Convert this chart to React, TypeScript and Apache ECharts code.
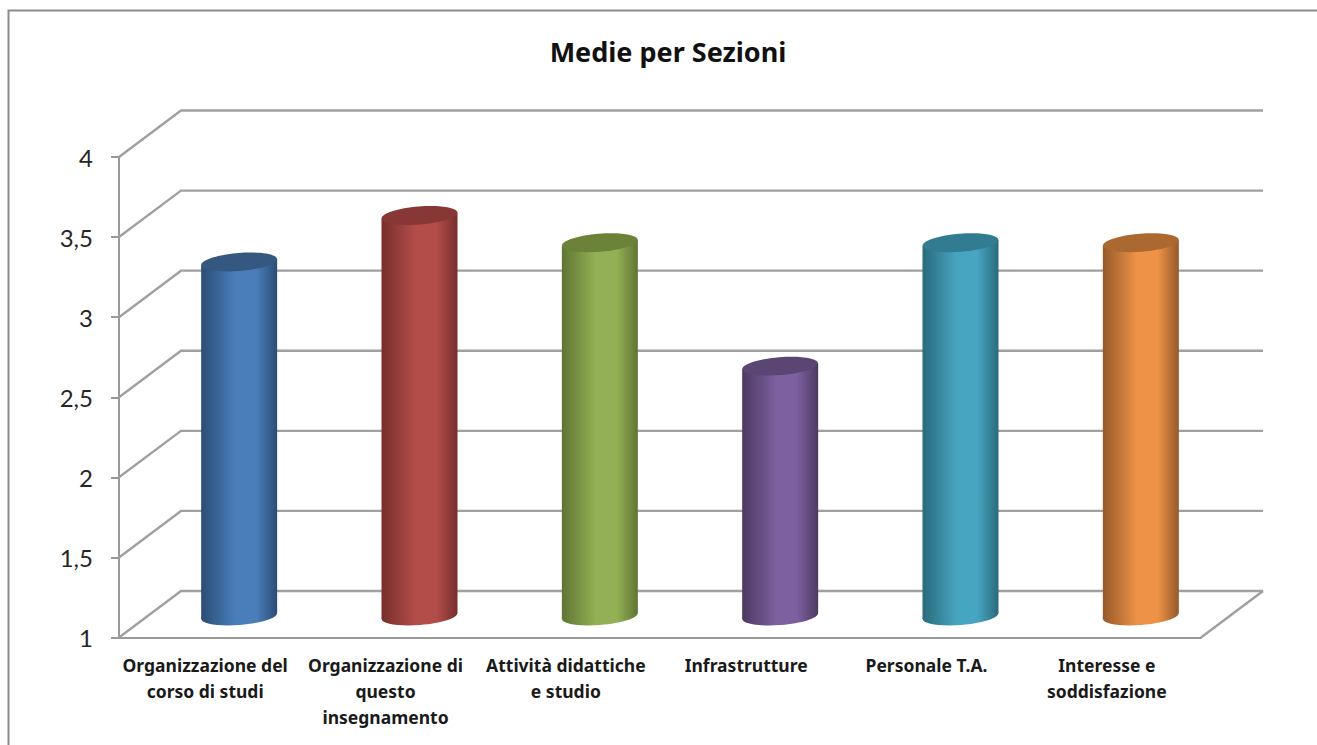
import React, { useEffect, useRef } from "react";
import * as echarts from "echarts";

const titleText = "Medie per Sezioni";
const categories = [
  "Organizzazione del\ncorso di studi",
  "Organizzazione di\nquesto\ninsegnamento",
  "Attività didattiche\ne studio",
  "Infrastrutture",
  "Personale T.A.",
  "Interesse e\nsoddisfazione",
];
const values = [3.21, 3.5, 3.33, 2.56, 3.33, 3.33];
const yTicks = [1, 1.5, 2, 2.5, 3, 3.5, 4];
const centerColors = ["#4a7ebb", "#b34d4a", "#93b154", "#7d60a0", "#46a5c0", "#ee9247"];
const edgeColors = ["#2c4d75", "#772e2c", "#5f7534", "#4c3a62", "#2a6a7c", "#96592a"];
const topColors = ["#34587f", "#873735", "#6b8238", "#5a4573", "#327c91", "#ac6831"];

const GRID_COLOR = "#a0a0a0";
const AXIS_COLOR = "#999999";
const DEPTH_X = 62;
const DEPTH_Y = 46.5;
const BAR_DX = 30;
const BAR_DY = 21.5;
const RX = 38;
const RY = 9;
const TILT = 3;

const wallItem = (params: any, api: any) => {
  const v = api.value(0);
  const cs = params.coordSys;
  const y = api.coord([0, v])[1];
  const x0 = cs.x;
  const x1 = cs.x + cs.width;
  const children: any[] = [
    {
      type: "polyline",
      shape: { points: [[x0, y], [x0 + DEPTH_X, y - DEPTH_Y], [x1 + DEPTH_X, y - DEPTH_Y]] },
      style: { stroke: GRID_COLOR, lineWidth: 2.4, fill: "none" },
    },
  ];
  if (v === yTicks[0]) {
    children.push({
      type: "line",
      shape: { x1, y1: y, x2: x1 + DEPTH_X, y2: y - DEPTH_Y },
      style: { stroke: GRID_COLOR, lineWidth: 2.4 },
    });
  }
  return { type: "group", children };
};

const barItem = (params: any, api: any) => {
  const i = api.value(0);
  const top = api.coord([i, api.value(1)]);
  const base = api.coord([i, yTicks[0]]);
  const cx = top[0] + BAR_DX;
  const ty = top[1] - BAR_DY;
  const by = base[1] - BAR_DY;
  const fill = new echarts.graphic.LinearGradient(0, 0, 1, 0, [
    { offset: 0, color: edgeColors[i] },
    { offset: 0.45, color: centerColors[i] },
    { offset: 0.72, color: centerColors[i] },
    { offset: 1, color: edgeColors[i] },
  ]);
  const rotation = Math.atan2(TILT * 2, RX * 2);
  return {
    type: "group",
    children: [
      {
        type: "ellipse",
        x: cx,
        y: by,
        rotation,
        shape: { cx: 0, cy: 0, rx: RX, ry: RY },
        style: { fill },
      },
      {
        type: "polygon",
        shape: {
          points: [
            [cx - RX, ty + TILT],
            [cx + RX, ty - TILT],
            [cx + RX, by - TILT],
            [cx - RX, by + TILT],
          ],
        },
        style: { fill },
      },
      {
        type: "ellipse",
        x: cx,
        y: ty,
        rotation,
        shape: { cx: 0, cy: 0, rx: RX, ry: RY },
        style: { fill: topColors[i] },
      },
    ],
  };
};

export default function App() {
  const ref = useRef<HTMLDivElement>(null);
  useEffect(() => {
    const chart = echarts.init(ref.current!, undefined, { renderer: "svg" });
    chart.setOption({
      animation: false,
      backgroundColor: "#ffffff",
      textStyle: { fontFamily: "Noto Sans" },
      title: {
        text: titleText,
        left: 663,
        top: 33,
        textAlign: "center",
        textStyle: { fontFamily: "Noto Sans", fontSize: 27, fontWeight: "bold", color: "#111111" },
      },
      graphic: [
        {
          type: "rect",
          shape: { x: 8.5, y: 10.5, width: 1400, height: 800 },
          style: { fill: "none", stroke: "#8c8c8c", lineWidth: 2 },
          silent: true,
        },
      ],
      grid: { left: 119, right: 116, top: 157, bottom: 107.5 },
      xAxis: {
        type: "category",
        data: categories,
        axisLine: { lineStyle: { color: AXIS_COLOR, width: 2 } },
        axisTick: { length: 8, lineStyle: { color: AXIS_COLOR, width: 2 } },
        axisLabel: {
          interval: 0,
          margin: 14,
          fontFamily: "Noto Sans",
          fontSize: 17.5,
          fontWeight: "bold",
          lineHeight: 26,
          color: "#1a1a1a",
          padding: [0, 8, 0, 0],
        },
      },
      yAxis: {
        type: "value",
        min: 1,
        max: 4,
        interval: 0.5,
        splitLine: { show: false },
        axisLine: { show: true, lineStyle: { color: AXIS_COLOR, width: 2 } },
        axisTick: { show: true, length: 8, lineStyle: { color: AXIS_COLOR, width: 2 } },
        axisLabel: {
          margin: 26,
          fontFamily: "Lato",
          fontSize: 24,
          color: "#262626",
          formatter: (v: number) => String(v).replace(".", ","),
        },
      },
      series: [
        {
          type: "custom",
          silent: true,
          clip: false,
          z: 1,
          renderItem: wallItem,
          encode: { y: 0 },
          data: yTicks.map((v) => [v]),
        },
        {
          type: "custom",
          silent: true,
          clip: false,
          z: 3,
          renderItem: barItem,
          encode: { x: 0, y: 1 },
          data: values.map((v, i) => [i, v]),
        },
      ],
    });
    return () => chart.dispose();
  }, []);
  return (
    <div
      ref={ref}
      style={{ position: "fixed", left: 0, top: 0, width: 1317, height: 745 }}
    />
  );
}
